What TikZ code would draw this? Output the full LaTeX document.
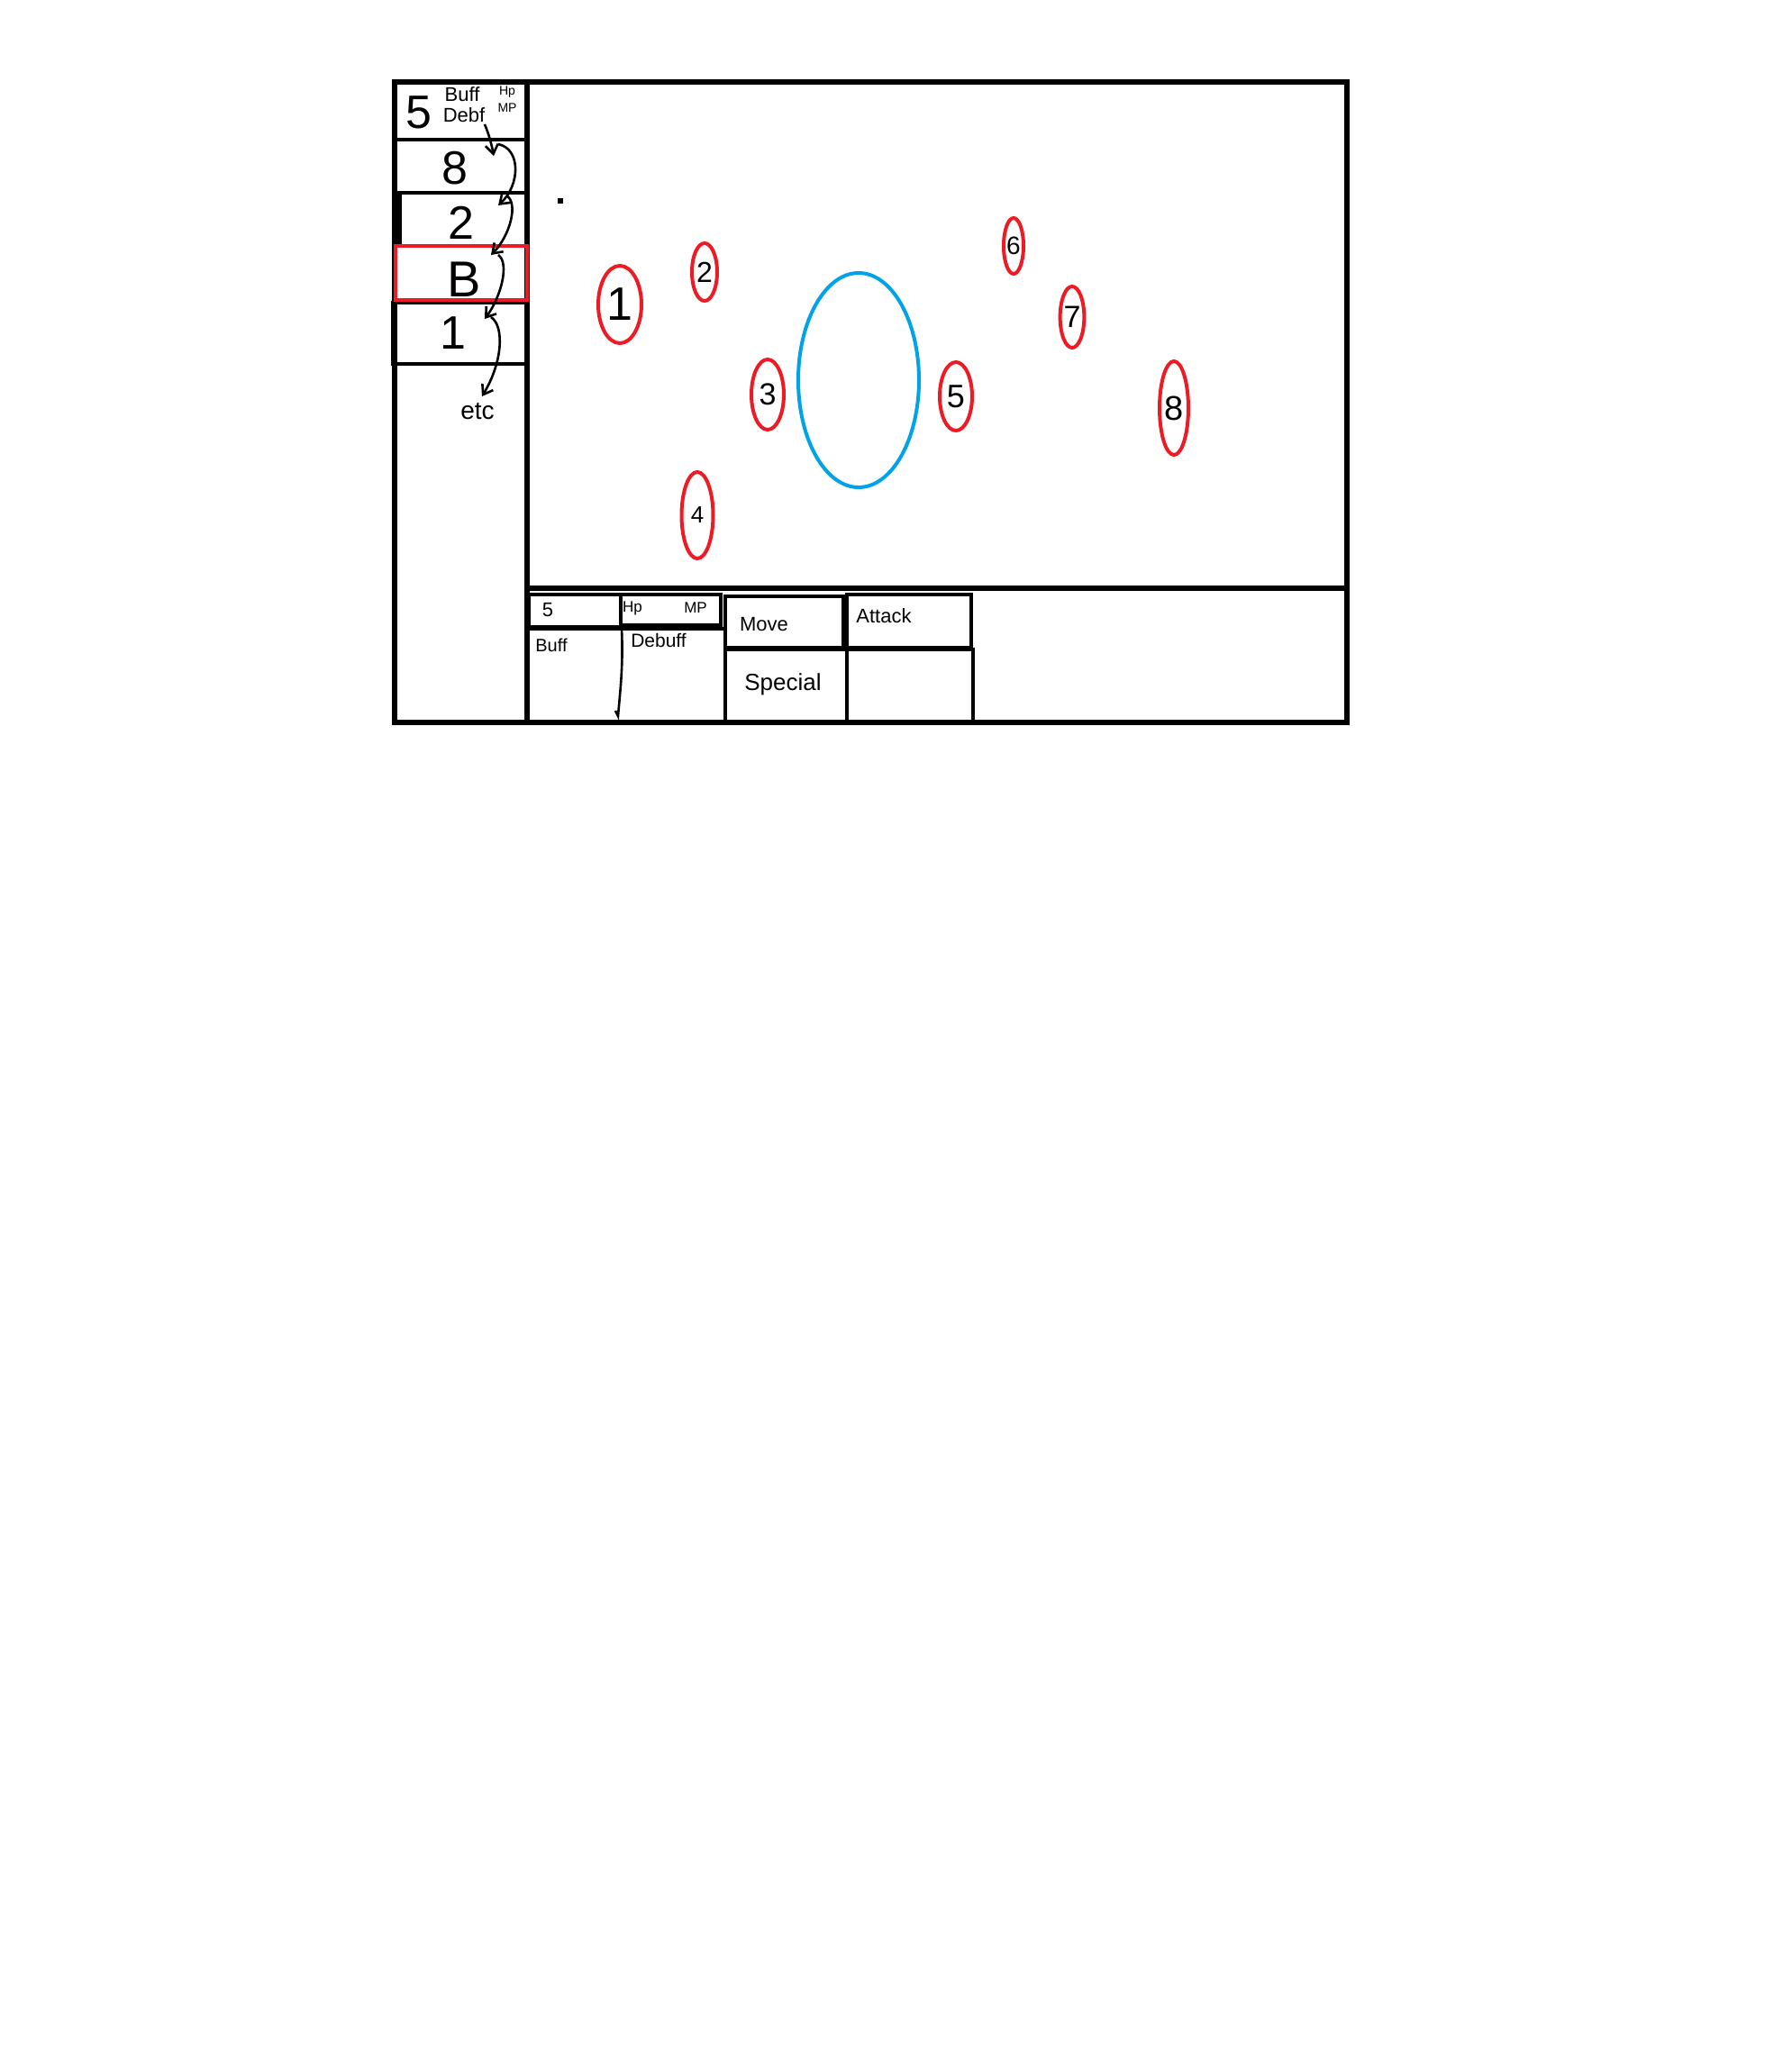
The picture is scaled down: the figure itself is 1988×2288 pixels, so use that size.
\documentclass[tikz,border=0pt]{standalone}
\usepackage{fontspec}
\setmainfont{Liberation Sans}
\usetikzlibrary{shapes.geometric,arrows.meta}
\definecolor{pred}{HTML}{ED1C24}
\definecolor{pblue}{HTML}{00A2E8}
\begin{document}
\begin{tikzpicture}[x=0.5pt,y=-0.5pt,
  frame/.style={line width=3pt},
  box/.style={line width=2.3pt},
  unit/.style={ellipse,draw=pred,line width=2pt,inner sep=0pt},
  hand/.style={line width=1.3pt,-{Straight Barb[length=5pt,width=7pt,line width=1.3pt]}},
  lbl/.style={inner sep=0pt,font=\fontsize{#1}{#1}\selectfont},
]
\useasboundingbox[fill=white] (0,0) rectangle (1988,2288);

% outer frame and panel dividers
\draw[frame] (438,91) rectangle (1495,802);
\draw[frame] (585,91) -- (585,802);
\draw[frame] (585,653) -- (1495,653);

% left turn-order list
\draw[box] (438,155) -- (585,155);
\draw[box] (438,214) -- (585,214);
\draw[line width=3pt] (443,214) -- (443,273);
\draw[box] (434,336) -- (585,336);
\draw[box] (434,404) -- (585,404);
\draw[box] (436,336) -- (436,404);
\draw[pred,line width=2.2pt] (439,273) rectangle (585,333);

\node[lbl=26] (t5) at (465,125) {5};
\node[lbl=11] (tbuff) at (513,105) {Buff};
\node[lbl=11] (tdebf) at (515,128) {Debf};
\node[lbl=7] (thp) at (563,102) {Hp};
\node[lbl=7] (tmp) at (563,120) {MP};
\node[lbl=26] (t8) at (505,187) {8};
\node[lbl=26] (t2) at (512,247) {2};
\node[lbl=28] (tB) at (515,310) {B};
\node[lbl=26] (t1) at (503,370) {1};
\node[lbl=14] (tetc) at (530,457) {etc};

% chain of hand-drawn arrows
\coordinate (a1s) at (538,138);
\coordinate (a1e) at (548,173);
\coordinate (a2s) at (553,160);
\coordinate (a2e) at (553,228);
\coordinate (a3s) at (562,217);
\coordinate (a3e) at (545,283);
\coordinate (a4s) at (553,283);
\coordinate (a4e) at (538,354);
\coordinate (a5s) at (545,352);
\coordinate (a5e) at (535,440);
\draw[hand] (a1s) .. controls (543,150) and (546,162) .. (a1e);
\draw[hand] (a2s) .. controls (578,165) and (578,205) .. (a2e);
\draw[hand] (a3s) .. controls (576,225) and (566,262) .. (a3e);
\draw[hand] (a4s) .. controls (566,292) and (556,330) .. (a4e);
\draw[hand] (a5s) .. controls (560,362) and (558,402) .. (a5e);

% small dot
\fill (619,220) rectangle (625,226);

% battlefield
\node[ellipse,draw=pblue,line width=2pt,inner sep=0pt,minimum width=67pt,minimum height=119pt] (boss) at (953,422) {};
\node[unit,minimum width=24pt,minimum height=43pt,lbl=26] (e1) at (688,338) {1};
\node[unit,minimum width=14pt,minimum height=32pt,lbl=16] (e2) at (782,302) {2};
\node[unit,minimum width=18pt,minimum height=39pt,lbl=17] (e3) at (852,438) {3};
\node[unit,minimum width=17.5pt,minimum height=48pt,lbl=13] (e4) at (774,572) {4};
\node[unit,minimum width=18pt,minimum height=38pt,lbl=18] (e5) at (1061,440) {5};
\node[unit,minimum width=10pt,minimum height=31pt,lbl=14] (e6) at (1125,273) {6};
\node[unit,minimum width=11pt,minimum height=34pt,lbl=17] (e7) at (1190,352) {7};
\node[unit,minimum width=16pt,minimum height=52pt,lbl=19] (e8) at (1303,453) {8};

% bottom status panel
\draw[box] (587,660) rectangle (689,696);
\draw[box] (689,660) rectangle (800,694);
\draw[box] (585,698) -- (805,698);
\draw[box] (805,662) -- (805,800);
\draw[box] (805,662) rectangle (936,719);
\draw[box] (940,660) rectangle (1078,719);
\draw[box] (803,721) -- (1080,721);
\draw[box] (940,719) -- (940,800);
\draw[box] (1080,719) -- (1080,800);
\draw[line width=1.3pt] (690,698) .. controls (692,740) and (688,770) .. (686,795) -- (683,789);

\node[lbl=11] (b5) at (608,677) {5};
\node[lbl=8.5] (bhp) at (702,675) {Hp};
\node[lbl=8.5] (bmp) at (772,675) {MP};
\node[lbl=10] (bbuff) at (612,716) {Buff};
\node[lbl=10.5] (bdebuff) at (731,711) {Debuff};
\node[lbl=11] (bmove) at (848,693) {Move};
\node[lbl=11] (battack) at (981,684) {Attack};
\node[lbl=13] (bspecial) at (869,760) {Special};
\end{tikzpicture}
\end{document}
